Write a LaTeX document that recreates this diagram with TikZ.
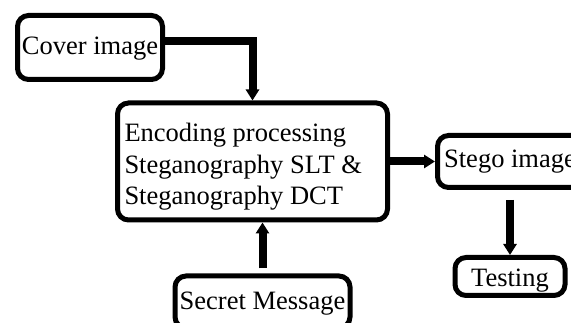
\documentclass[tikz,border=0pt]{standalone}
\usepackage{fontspec}
\setmainfont{Liberation Serif}
\usetikzlibrary{arrows.meta}
\begin{document}
\begin{tikzpicture}[x=1pt,y=-1pt,
  blk/.style={draw, line width=5pt, rounded corners=11pt, inner sep=0pt, font=\fontsize{26.5}{31.5}\selectfont},
  lbl/.style={text height=#1, text depth=0pt},
  conn/.style={line width=8pt, -{Triangle[length=11pt, width=13pt]}}]
\useasboundingbox (0,0) rectangle (571,323);
\node[blk, lbl=15pt, minimum width=145pt, minimum height=64pt] (cover) at (90,47.5) {Cover image};
\node[blk, minimum width=270pt, minimum height=117pt] (main) at (252.5,161.5)
  {\raisebox{-5.5pt}[\height][\depth]{\makebox[256pt][l]{\begin{tabular}{@{}l@{}}Encoding processing\\Steganography SLT \&\\Steganography DCT\end{tabular}}}};
\node[blk, lbl=13pt, minimum width=145pt, minimum height=52pt] (stego) at (510,161.5) {Stego image};
\node[blk, lbl=21pt, minimum width=110pt, minimum height=38pt] (testing) at (510,276.5) {Testing};
\node[blk, lbl=16pt, minimum width=175pt, minimum height=52pt] (secret) at (262.5,302) {Secret Message};
\draw[conn] ([yshift=6.5pt]cover.east) -| (main.north);
\draw[conn] (main.east) -- (stego.west);
\draw[conn] ([yshift=-10pt]stego.south) -- (testing.north);
\draw[conn] ([yshift=5pt]secret.north) -- (secret.north |- main.south);
\end{tikzpicture}
\end{document}
